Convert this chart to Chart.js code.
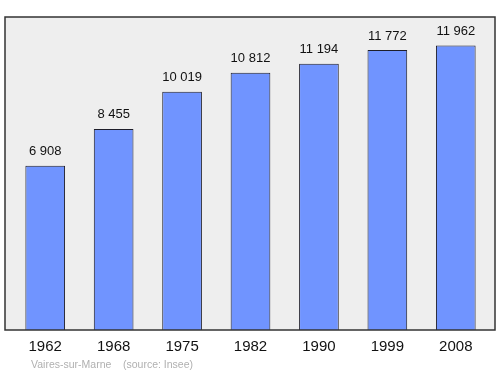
<!DOCTYPE html>
<html>
<head>
<meta charset="utf-8">
<script src="https://cdn.jsdelivr.net/npm/chart.js@4/dist/chart.umd.min.js"></script>
<style>
    body { margin: 0; background: #fff; }
    canvas { display: block; }
</style>
</head>
<body>
<canvas id="popChart" width="500" height="374"></canvas>
<script>
const years = ['1962', '1968', '1975', '1982', '1990', '1999', '2008'];
const population = [6908, 8455, 10019, 10812, 11194, 11772, 11962];
const valueLabels = ['6 908', '8 455', '10 019', '10 812', '11 194', '11 772', '11 962'];
const footerText = 'Vaires-sur-Marne    (source: Insee)';

const yMax = Math.max(...population) * 1.1;

// frame, labels and footer drawn around the chart area
const decorPlugin = {
    id: 'decor',
    beforeDatasetsDraw(chart) {
        const { ctx, chartArea } = chart;
        const left = chartArea.left - 6;
        const right = chartArea.right + 5;
        ctx.save();
        ctx.fillStyle = '#eeeeee';
        ctx.fillRect(left, chartArea.top, right - left, chartArea.bottom - chartArea.top);
        ctx.restore();
    },
    afterDatasetsDraw(chart) {
        const { ctx, chartArea, scales } = chart;
        const left = chartArea.left - 6;
        const right = chartArea.right + 5;
        const meta = chart.getDatasetMeta(0);

        ctx.save();
        ctx.strokeStyle = '#333333';
        ctx.lineWidth = 1.5;
        ctx.strokeRect(left, chartArea.top, right - left, chartArea.bottom - chartArea.top);

        ctx.fillStyle = '#111';
        ctx.textAlign = 'center';
        ctx.textBaseline = 'middle';
        ctx.font = '13px "Liberation Sans", Arial, sans-serif';
        meta.data.forEach((bar, i) => {
            ctx.fillText(valueLabels[i], bar.x, bar.y - 14);
        });

        ctx.font = '15px "Liberation Sans", Arial, sans-serif';
        years.forEach((y, i) => {
            ctx.fillText(y, scales.x.getPixelForTick(i), chartArea.bottom + 17);
        });

        ctx.fillStyle = '#b0b0b0';
        ctx.textAlign = 'left';
        ctx.font = '10.5px "Liberation Sans", Arial, sans-serif';
        ctx.fillText(footerText, 31, chartArea.bottom + 35);
        ctx.restore();
    }
};

const ctx = document.getElementById('popChart').getContext('2d');
new Chart(ctx, {
    type: 'bar',
    data: {
        labels: years,
        datasets: [{
            data: population,
            backgroundColor: '#7094ff',
            borderColor: '#1e1e2a',
            borderWidth: 1,
            barPercentage: 0.58,
            categoryPercentage: 1.0
        }]
    },
    options: {
        responsive: false,
        animation: false,
        layout: {
            padding: { left: 11, right: 10, top: 17, bottom: 44 }
        },
        scales: {
            x: { display: false },
            y: { display: false, min: 0, max: yMax }
        },
        plugins: {
            legend: { display: false },
            tooltip: { enabled: false }
        }
    },
    plugins: [decorPlugin]
});
</script>
</body>
</html>
